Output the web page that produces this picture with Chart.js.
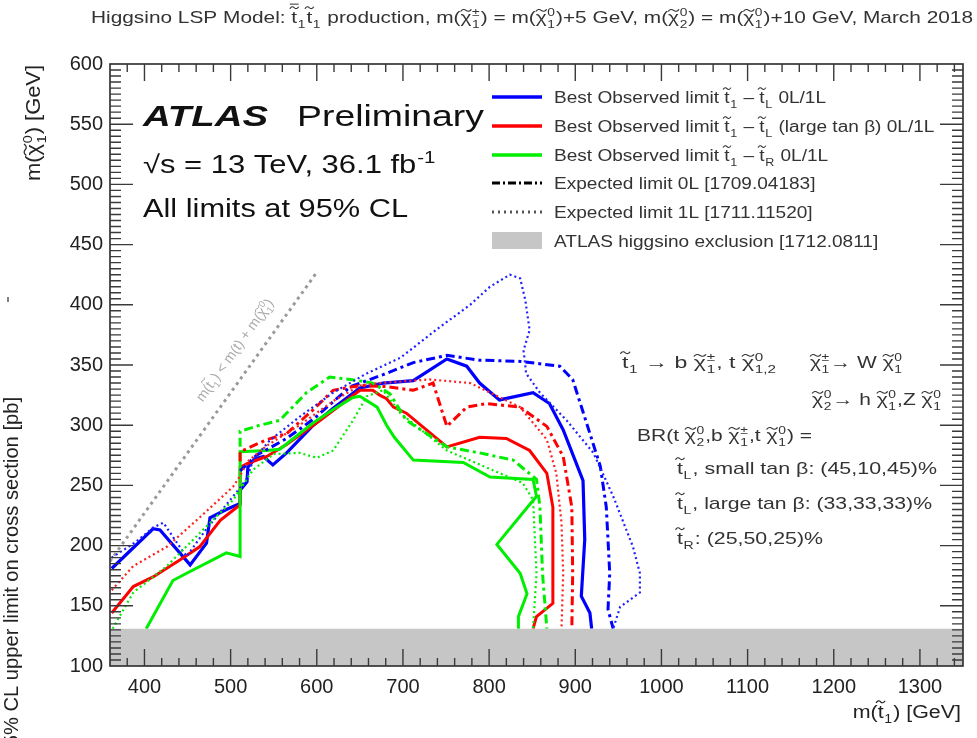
<!DOCTYPE html>
<html>
<head>
<meta charset="utf-8">
<script src="https://cdn.jsdelivr.net/npm/chart.js@4.4.1/dist/chart.umd.min.js"></script>
<style>
  html, body { margin: 0; padding: 0; background: #ffffff; overflow: hidden; }
  #wrap { width: 977px; height: 738px; position: relative; }
</style>
</head>
<body>
<div id="wrap"><canvas id="c" width="977" height="738"></canvas></div>
<script>
// ---- Exclusion contours, (m(stop) [GeV], m(LSP) [GeV]) ----
const blueObserved = [[362,181],[410,214],[418,213],[453,184],[472,202],[476,223],[495,230],[511,235],[511,246],[519,253],[520,265],[528,272],[538,274],[549,267],[565,277],[596,300],[619,314],[650,331],[677,335],[712,337],[751,355],[774,349],[789,335],[812,321],[851,327],[870,318],[886,296],[909,254],[911,205],[907,158],[917,144],[919,131]];
const redObserved = [[362,144],[387,166],[410,174],[441,188],[464,199],[488,221],[511,234],[511,265],[519,268],[542,274],[565,284],[604,304],[650,329],[665,329],[673,325],[681,322],[689,315],[704,310],[751,282],[789,290],[820,289],[847,279],[867,260],[874,232],[874,152],[855,141],[851,131]];
const greenObserved = [[402,131],[433,171],[449,177],[495,194],[511,191],[511,278],[542,279],[557,280],[596,302],[619,313],[642,323],[650,324],[670,315],[681,300],[690,290],[712,271],[770,269],[801,257],[851,255],[855,241],[809,201],[836,177],[844,160],[834,141],[834,131]];
const blueExpected0L = [[511,262],[530,275],[565,289],[596,305],[639,332],[677,342],[712,352],[751,358],[789,354],[836,353],[882,349],[897,338],[913,302],[929,266],[936,232],[940,177],[938,147],[944,131]];
const redExpected0L = [[511,270],[511,278],[542,288],[565,293],[596,313],[619,329],[650,333],[681,332],[712,329],[735,335],[751,299],[774,315],[797,318],[836,315],[867,299],[886,274],[896,232],[897,177],[896,131]];
const greenExpected0L = [[511,282],[511,295],[534,300],[557,304],[588,327],[615,340],[639,338],[665,335],[685,326],[704,304],[751,282],[789,277],[828,271],[855,255],[859,232],[862,177],[867,131]];
const blueExpected1L = [[362,190],[390,203],[410,215],[422,219],[437,203],[449,191],[470,212],[495,234],[511,248],[519,256],[526,271],[545,287],[580,307],[619,327],[658,343],[697,356],[740,380],[778,400],[801,415],[824,425],[836,422],[842,404],[847,379],[840,362],[843,343],[859,327],[890,304],[921,277],[944,241],[967,199],[975,177],[975,161],[952,149],[944,131]];
const redExpected1L = [[362,163],[387,183],[426,199],[465,224],[503,249],[511,258],[520,270],[542,283],[580,300],[619,320],[650,333],[673,335],[731,338],[778,335],[836,315],[867,288],[878,260],[884,219],[886,177],[884,131]];
const greenExpected1L = [[363,131],[387,161],[426,183],[465,211],[503,238],[526,263],[550,276],[580,277],[600,273],[619,279],[642,304],[658,324],[677,329],[697,310],[751,279],[839,252],[851,238],[855,177],[851,131]];
const kinematicLimit = [[360,187],[601,428]];          // m(stop) = m(t) + m(LSP)
const higgsinoExclusion = [[360,131],[1350,131]];     // excluded below this LSP mass

const stopMassTicks = [400,500,600,700,800,900,1000,1100,1200,1300];
const lspMassTicks = [100,150,200,250,300,350,400,450,500,550,600];

// ---- text helpers ----
const FONT = "'Liberation Sans', Arial, Helvetica, sans-serif";
const fontStr = (s, st) => (st ? st + ' ' : '') + s + 'px ' + FONT;
const T = (b, sub, sup, extra) => Object.assign({ b, sub, sup, tilde: true }, extra || {});

function layoutRich(ctx, parts, size, style) {
  const items = []; let x = 0;
  for (const p of parts) {
    if (typeof p === 'string') {
      ctx.font = fontStr(size, style);
      items.push({ t: p, x, dy: 0, s: size });
      x += ctx.measureText(p).width;
    } else {
      ctx.font = fontStr(size, style);
      const bw = ctx.measureText(p.b).width;
      items.push({ t: p.b, x, dy: 0, s: size, tilde: p.tilde, bar: p.bar, bw, base: p.b });
      const ss = size * 0.66;
      ctx.font = fontStr(ss, style);
      let sw = 0;
      const sx = x + bw + size * 0.03;
      if (p.sub) { items.push({ t: p.sub, x: sx, dy: size * 0.3, s: ss }); sw = Math.max(sw, ctx.measureText(p.sub).width); }
      if (p.sup) { items.push({ t: p.sup, x: sx, dy: -size * 0.42, s: ss }); sw = Math.max(sw, ctx.measureText(p.sup).width); }
      x += bw + (sw ? sw + size * 0.08 : 0);
    }
  }
  return { items, width: x };
}

function drawRich(ctx, parts, o) {
  const L = layoutRich(ctx, parts, o.size, o.style);
  let sx = o.sx || 1;
  if (o.width) sx = o.width / L.width;
  const W = L.width * sx;
  const x0 = o.align === 'right' ? -W : (o.align === 'center' ? -W / 2 : 0);
  ctx.save();
  ctx.translate(o.x, o.y);
  if (o.rot) ctx.rotate(o.rot);
  ctx.translate(x0, 0);
  ctx.scale(sx, 1);
  ctx.fillStyle = o.color || '#222';
  ctx.strokeStyle = o.color || '#222';
  ctx.textBaseline = 'alphabetic';
  ctx.textAlign = 'left';
  for (const it of L.items) {
    ctx.font = fontStr(it.s, o.style);
    ctx.fillText(it.t, it.x, it.dy);
    if (it.tilde) {
      const h = it.base === 't' ? 0.9 : 0.74;
      const cy = -it.s * h, w = Math.max(it.bw, it.s * 0.42), cx = it.x + it.bw / 2 + (o.style && o.style.includes('italic') ? it.s * 0.08 : 0);
      const a = it.s * 0.06;
      ctx.lineWidth = Math.max(0.9, it.s * 0.06);
      ctx.beginPath();
      ctx.moveTo(cx - w / 2, cy + a);
      ctx.quadraticCurveTo(cx - w / 4, cy - 2.2 * a, cx, cy);
      ctx.quadraticCurveTo(cx + w / 4, cy + 2.2 * a, cx + w / 2, cy - a);
      ctx.stroke();
      if (it.bar) {
        ctx.beginPath();
        ctx.moveTo(cx - w / 2, cy - 3.5 * a);
        ctx.lineTo(cx + w / 2, cy - 3.5 * a);
        ctx.stroke();
      }
    }
  }
  ctx.restore();
}

// ---- legend entries ----
const legendEntries = [
  { parts: ['Best Observed limit ', T('t', '1'), ' \u2013 ', T('t', 'L'), ' 0L/1L'], kind: 'line', color: '#0000ff', dash: [] },
  { parts: ['Best Observed limit ', T('t', '1'), ' \u2013 ', T('t', 'L'), ' (large tan \u03b2) 0L/1L'], kind: 'line', color: '#ff0000', dash: [] },
  { parts: ['Best Observed limit ', T('t', '1'), ' \u2013 ', T('t', 'R'), ' 0L/1L'], kind: 'line', color: '#00ee00', dash: [] },
  { parts: ['Expected limit 0L [1709.04183]'], kind: 'line', color: '#000000', dash: [8, 3, 2, 3] },
  { parts: ['Expected limit 1L [1711.11520]'], kind: 'line', color: '#555555', dash: [2, 4] },
  { parts: ['ATLAS higgsino exclusion [1712.0811]'], kind: 'box', color: '#c6c6c6' }
];

const decorPlugin = {
  id: 'atlasDecor',
  afterDraw(chart) {
    const ctx = chart.ctx;
    const a = chart.chartArea;
    const xs = chart.scales.x, ys = chart.scales.y;

    // frame
    ctx.save();
    ctx.strokeStyle = '#2a2a2a';
    ctx.lineWidth = 1.6;
    ctx.strokeRect(a.left, a.top, a.right - a.left, a.bottom - a.top);

    // inward ticks on all four sides
    ctx.strokeStyle = '#3a3a3a';
    ctx.lineWidth = 1.4;
    ctx.beginPath();
    for (let v = 360; v <= 1350; v += 20) {
      const px = xs.getPixelForValue(v);
      if (px <= a.left + 1 || px >= a.right - 1) continue;
      const len = v % 100 === 0 ? 17 : 8;
      ctx.moveTo(px, a.bottom); ctx.lineTo(px, a.bottom - len);
      ctx.moveTo(px, a.top); ctx.lineTo(px, a.top + len);
    }
    for (let v = 100; v <= 600; v += 5) {
      const py = ys.getPixelForValue(v);
      if (py <= a.top + 1 || py >= a.bottom - 1) continue;
      const len = v % 50 === 0 ? 23 : 11;
      ctx.moveTo(a.left, py); ctx.lineTo(a.left + len, py);
      ctx.moveTo(a.right, py); ctx.lineTo(a.right - len, py);
    }
    ctx.stroke();
    ctx.restore();

    // title line
    drawRich(ctx, ['Higgsino LSP Model: ', T('t', '1', null, { bar: true }), T('t', '1'), ' production, m(', T('\u03c7', '1', '\u00b1'), ') = m(', T('\u03c7', '1', '0'), ')+5 GeV, m(', T('\u03c7', '2', '0'), ') = m(', T('\u03c7', '1', '0'), ')+10 GeV, March 2018'],
      { x: 91, y: 23, size: 17, width: 882, color: '#333' });

    // axis titles
    drawRich(ctx, ['m(', T('t', '1'), ') [GeV]'], { x: 961, y: 718, size: 18, align: 'right', sx: 1.19, color: '#222' });
    drawRich(ctx, ['m(', T('\u03c7', '1', '0'), ') [GeV]'], { x: 40, y: 65, size: 20, align: 'right', rot: -Math.PI / 2, width: 116, color: '#222' });
    ctx.font = fontStr(20);
    const zScale = 338 / ctx.measureText('% CL upper limit on cross section [pb]').width;
    drawRich(ctx, ['95% CL upper limit on cross section [pb]'], { x: 18, y: 397, size: 20, align: 'right', rot: -Math.PI / 2, sx: zScale, color: '#222' });
    ctx.save();
    ctx.strokeStyle = '#555'; ctx.lineWidth = 1.5;
    ctx.beginPath(); ctx.moveTo(8, 297); ctx.lineTo(8, 302); ctx.stroke();
    ctx.restore();

    // ATLAS label block
    drawRich(ctx, ['ATLAS'], { x: 143, y: 126, size: 30, style: 'italic bold', width: 125, color: '#111' });
    drawRich(ctx, ['Preliminary'], { x: 297, y: 126, size: 30, width: 187, color: '#111' });
    drawRich(ctx, ['\u221as = 13 TeV, 36.1 fb', { b: '', sup: '-1' }], { x: 143, y: 173, size: 25, width: 294, color: '#111' });
    drawRich(ctx, ['All limits at 95% CL'], { x: 143, y: 217, size: 25, width: 265, color: '#111' });

    // legend
    const rowY = [97, 126, 155, 183, 212, 241];
    legendEntries.forEach((e, i) => {
      const y = rowY[i];
      ctx.save();
      if (e.kind === 'box') {
        ctx.fillStyle = e.color;
        ctx.fillRect(492, y - 9, 50, 17);
      } else {
        ctx.strokeStyle = e.color;
        ctx.lineWidth = i < 3 ? 3.5 : 3;
        ctx.setLineDash(e.dash);
        ctx.beginPath(); ctx.moveTo(492, y); ctx.lineTo(542, y); ctx.stroke();
      }
      ctx.restore();
      drawRich(ctx, e.parts, { x: 554, y: y + 6, size: 16, sx: 1.19, color: '#333' });
    });

    // decay chain and branching ratio notes
    const dc = '#333';
    drawRich(ctx, [T('t', '1'), ' \u2192 b ', T('\u03c7', '1', '\u00b1'), ', t ', T('\u03c7', '1,2', '0')], { x: 622, y: 368, size: 17, width: 155, color: dc });
    drawRich(ctx, [T('\u03c7', '1', '\u00b1'), '\u2192 W ', T('\u03c7', '1', '0')], { x: 810, y: 368, size: 17, width: 93, color: dc });
    drawRich(ctx, [T('\u03c7', '2', '0'), '\u2192 h ', T('\u03c7', '1', '0'), ',Z ', T('\u03c7', '1', '0')], { x: 812, y: 405, size: 17, width: 130, color: dc });
    drawRich(ctx, ['BR(t ', T('\u03c7', '2', '0'), ',b ', T('\u03c7', '1', '\u00b1'), ',t ', T('\u03c7', '1', '0'), ') ='], { x: 637, y: 441, size: 17, width: 175, color: dc });
    drawRich(ctx, [T('t', 'L'), ', small tan \u03b2: (45,10,45)%'], { x: 677, y: 474, size: 17, width: 260, color: dc });
    drawRich(ctx, [T('t', 'L'), ', large tan \u03b2: (33,33,33)%'], { x: 677, y: 509, size: 17, width: 255, color: dc });
    drawRich(ctx, [T('t', 'R'), ': (25,50,25)%'], { x: 677, y: 544, size: 17, width: 146, color: dc });

    // label along the kinematic boundary
    const p1x = xs.getPixelForValue(kinematicLimit[0][0]), p1y = ys.getPixelForValue(kinematicLimit[0][1]);
    const p2x = xs.getPixelForValue(kinematicLimit[1][0]), p2y = ys.getPixelForValue(kinematicLimit[1][1]);
    const ang = Math.atan2(p2y - p1y, p2x - p1x);
    const mx = xs.getPixelForValue(525), my = ys.getPixelForValue(525 - 173);
    const nx = Math.sin(ang), ny = -Math.cos(ang);
    drawRich(ctx, ['m(', T('t', '1'), ') < m(t) + m(', T('\u03c7', '1', '0'), ')'],
      { x: mx + nx * 17, y: my + ny * 17, size: 14, align: 'center', rot: ang, color: '#aaaaaa' });
  }
};

const mk = (pts, color, width, dash, order) => ({
  data: pts.map(([x, y]) => ({ x, y })),
  showLine: true, borderColor: color, backgroundColor: color, borderWidth: width,
  borderDash: dash, pointRadius: 0, fill: false, tension: 0, order: order
});

const datasets = [
  mk(kinematicLimit, '#9a9a9a', 3, [3, 4], 2),
  mk(greenExpected1L, '#00ee00', 2.2, [2, 3], 1),
  mk(redExpected1L, '#ff2020', 2.2, [2, 3], 1),
  mk(blueExpected1L, '#2020ff', 2.2, [2, 3], 1),
  mk(greenExpected0L, '#00ee00', 3, [9, 4, 3, 4], 1),
  mk(redExpected0L, '#ff0000', 3, [9, 4, 3, 4], 1),
  mk(blueExpected0L, '#0000ff', 3, [9, 4, 3, 4], 1),
  mk(greenObserved, '#00ee00', 3, [], 1),
  mk(redObserved, '#ff0000', 3, [], 1),
  mk(blueObserved, '#0000ff', 3.2, [], 1),
  Object.assign(mk(higgsinoExclusion, '#c6c6c6', 0, [], 0), { fill: 'start', backgroundColor: '#c6c6c6' })
];

new Chart(document.getElementById('c'), {
  type: 'scatter',
  data: { datasets },
  options: {
    responsive: false,
    animation: false,
    layout: { padding: { top: 64, right: 14, left: 0, bottom: 0 } },
    plugins: { legend: { display: false }, tooltip: { enabled: false } },
    scales: {
      x: {
        type: 'linear', min: 360, max: 1350,
        grid: { display: false, drawTicks: false }, border: { display: false },
        afterBuildTicks: s => { s.ticks = stopMassTicks.map(v => ({ value: v })); },
        afterFit: s => { s.height = 72; },
        ticks: { font: { family: FONT, size: 20 }, color: '#222', padding: 9, maxRotation: 0, autoSkip: false, callback: v => String(v) }
      },
      y: {
        type: 'linear', min: 100, max: 600,
        grid: { display: false, drawTicks: false }, border: { display: false },
        afterBuildTicks: s => { s.ticks = lspMassTicks.map(v => ({ value: v })); },
        afterFit: s => { s.width = 110; },
        ticks: { font: { family: FONT, size: 20 }, color: '#222', padding: 7, autoSkip: false, callback: v => String(v) }
      }
    }
  },
  plugins: [decorPlugin]
});
</script>
</body>
</html>
